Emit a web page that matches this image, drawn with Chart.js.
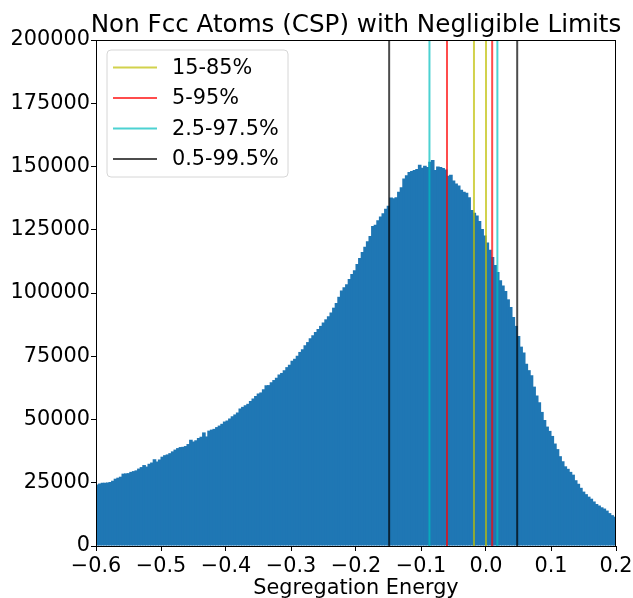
<!DOCTYPE html>
<html>
<head>
<meta charset="utf-8">
<script src="https://cdn.jsdelivr.net/npm/chart.js@4"></script>
<style>
  html, body { margin: 0; padding: 0; background: #fff; }
  #wrap { width: 633px; height: 598px; }
</style>
</head>
<body>
<div id="wrap"><canvas id="myChart" width="633" height="598"></canvas></div>
<script>
// Histogram of segregation energies, bins of 0.004 starting at -0.6
const binStart = -0.6;
const binWidth = 0.004;
const counts = [
  24300, 24700, 25000, 25000, 25100, 25300, 25800, 26600, 27000, 27400,
  28600, 28700, 28800, 29300, 29600, 29900, 30600, 31200, 32000, 31400,
  32500, 33000, 34300, 33400, 34200, 35300, 35900, 36200, 36700, 37400,
  38100, 38700, 39100, 39200, 39500, 40300, 42000, 41300, 41800, 42700,
  43200, 44900, 43300, 45600, 46000, 46300, 47000, 47600, 48300, 49200,
  49600, 50400, 51300, 52000, 52800, 54300, 55000, 55600, 56200, 57300,
  58300, 59300, 60300, 60700, 62000, 63500, 63600, 64700, 65600, 66500,
  67800, 68400, 69500, 70700, 71600, 73200, 74000, 75200, 76700, 77800,
  79300, 80600, 82100, 83300, 84600, 85800, 87000, 88300, 89600, 90800,
  92300, 94200, 96000, 98500, 101000, 102300, 103500, 105500, 107500, 109000,
  111500, 113800, 116200, 118300, 120500, 122500, 126500, 127000, 128800, 130200,
  131500, 133300, 134500, 137700, 137500, 137800, 140000, 141800, 145300, 146500,
  147800, 148200, 148600, 149000, 150700, 149500, 150300, 149800, 151900, 152600,
  148600, 150000, 149800, 149400, 148800, 146300, 146700, 144500, 143300, 142500,
  140800, 140000, 139600, 137800, 132800, 131700, 130600, 128500, 125300, 122700,
  120000, 117100, 114200, 111100, 108300, 105000, 103000, 100800, 97500, 94500,
  90500, 87000, 83000, 78800, 76500, 72000, 69500, 67500, 63000, 59500,
  56800, 53000, 49800, 47200, 45500, 43500, 40500, 38300, 35500, 33500,
  31500, 30500, 29300, 28200, 26000, 24600, 23000, 21500, 20500, 19500,
  18700, 17600, 16600, 16000, 15300, 14800, 14000, 13000, 12200, 11600
];

// percentile limits (lower, upper)
const limitLabels = ['15-85%', '5-95%', '2.5-97.5%', '0.5-99.5%'];
const limitLow  = [-0.0185, -0.060, -0.087, -0.149];
const limitHigh = [0.0, 0.0095, 0.0175, 0.048];
const limitColors = ['rgba(191,191,0,0.7)', 'rgba(255,0,0,0.7)', 'rgba(0,191,191,0.7)', 'rgba(0,0,0,0.7)'];

const xTicks = [-0.6, -0.5, -0.4, -0.3, -0.2, -0.1, 0.0, 0.1, 0.2];
const yMax = 200000;

const FONT = 'DejaVu Sans';
Chart.defaults.font.family = FONT;
Chart.defaults.color = '#000';

const histData = counts.map((c, i) => ({ x: binStart + binWidth * (i + 0.5), y: c }));

const datasets = [];
limitLabels.forEach((lab, k) => {
  [limitLow[k], limitHigh[k]].forEach(v => {
    datasets.push({
      type: 'line',
      label: lab,
      data: [{ x: v, y: 0 }, { x: v, y: yMax }],
      borderColor: limitColors[k],
      borderWidth: 2,
      pointRadius: 0,
      order: 0
    });
  });
});
datasets.push({
  type: 'bar',
  label: 'counts',
  data: histData,
  backgroundColor: '#1f77b4',
  borderWidth: 0,
  barPercentage: 1.4,   // overlap a little so no seams between bins
  categoryPercentage: 1,
  grouped: false,
  order: 1
});

// title, frame and matplotlib-like legend
const extras = {
  id: 'extras',
  afterDraw(chart) {
    const ctx = chart.ctx;
    const a = chart.chartArea;
    ctx.save();
    ctx.strokeStyle = '#000';
    ctx.lineWidth = 1;
    ctx.strokeRect(a.left + 0.5, a.top + 0.5, a.right - a.left - 1, a.bottom - a.top);

    ctx.fillStyle = '#000';
    ctx.font = '24.6px "' + FONT + '"';
    ctx.textAlign = 'center';
    ctx.textBaseline = 'alphabetic';
    ctx.fillText('Non Fcc Atoms (CSP) with Negligible Limits', (a.left + a.right) / 2, 32);

    // legend box
    const bx = 107, by = 50, bw = 181, bh = 127, r = 4;
    ctx.beginPath();
    ctx.moveTo(bx + r, by);
    ctx.arcTo(bx + bw, by, bx + bw, by + bh, r);
    ctx.arcTo(bx + bw, by + bh, bx, by + bh, r);
    ctx.arcTo(bx, by + bh, bx, by, r);
    ctx.arcTo(bx, by, bx + bw, by, r);
    ctx.closePath();
    ctx.fillStyle = 'rgba(255,255,255,0.8)';
    ctx.fill();
    ctx.strokeStyle = '#d6d6d6';
    ctx.stroke();

    ctx.font = '20.8px "' + FONT + '"';
    ctx.textAlign = 'left';
    ctx.textBaseline = 'middle';
    limitLabels.forEach((lab, k) => {
      const y = 67.5 + k * 30.5;
      ctx.strokeStyle = limitColors[k];
      ctx.lineWidth = 2;
      ctx.beginPath();
      ctx.moveTo(113, y);
      ctx.lineTo(157, y);
      ctx.stroke();
      ctx.fillStyle = '#000';
      ctx.fillText(lab, 172, y + 1);
    });
    ctx.restore();
  }
};

const fmt = v => {
  const s = Number(v).toFixed(1);
  return s.replace('-', '\u2212');
};

new Chart(document.getElementById('myChart'), {
  type: 'bar',
  data: { datasets },
  options: {
    responsive: false,
    animation: false,
    layout: { padding: { top: 40, right: 17, left: 0, bottom: 0 } },
    plugins: {
      legend: { display: false },
      tooltip: { enabled: false }
    },
    scales: {
      x: {
        type: 'linear',
        min: -0.6,
        max: 0.2,
        offset: false,
        afterFit: s => { s.height = 52; s.paddingRight = 0; s.paddingLeft = 0; },
        afterBuildTicks: s => { s.ticks = xTicks.map(v => ({ value: v })); },
        ticks: {
          font: { size: 20.8 },
          padding: 3,
          maxRotation: 0,
          callback: v => fmt(v)
        },
        grid: { display: true, offset: false, drawOnChartArea: false, drawTicks: true, tickLength: 5, color: '#000' },
        border: { display: true, color: '#000' },
        title: { display: true, text: 'Segregation Energy', font: { size: 20.8 }, padding: { top: 0, bottom: -3 } }
      },
      y: {
        min: 0,
        max: yMax,
        afterFit: s => { s.width = 96; s.paddingTop = 0; s.paddingBottom = 0; },
        ticks: {
          stepSize: 25000,
          font: { size: 20.8 },
          padding: 1,
          callback: v => String(v)
        },
        grid: { display: true, drawOnChartArea: false, drawTicks: true, tickLength: 5, color: '#000' },
        border: { display: true, color: '#000' }
      }
    }
  },
  plugins: [extras]
});
</script>
</body>
</html>
